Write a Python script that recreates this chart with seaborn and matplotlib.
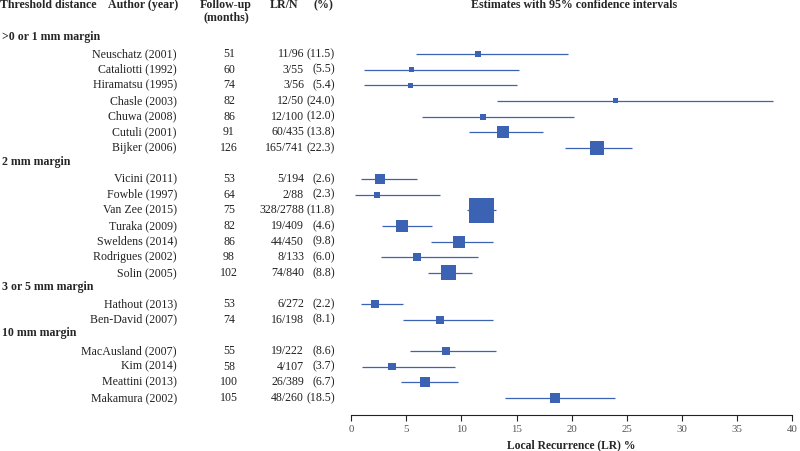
import matplotlib
matplotlib.use("Agg")
import matplotlib.pyplot as plt
import matplotlib.transforms as mtransforms
import pandas as pd
import seaborn as sns

# margin groups and the studies in each one
groups = [">0 or 1 mm margin", "2 mm margin", "3 or 5 mm margin", "10 mm margin"]
group_sizes = [7, 7, 2, 4]

authors = ["Neuschatz (2001)", "Cataliotti (1992)", "Hiramatsu (1995)", "Chasle (2003)",
           "Chuwa (2008)", "Cutuli (2001)", "Bijker (2006)",
           "Vicini (2011)", "Fowble (1997)", "Van Zee (2015)", "Turaka (2009)",
           "Sweldens (2014)", "Rodrigues (2002)", "Solin (2005)",
           "Hathout (2013)", "Ben-David (2007)",
           "MacAusland (2007)", "Kim (2014)", "Meattini (2013)", "Makamura (2002)"]
followup = [51, 60, 74, 82, 86, 91, 126,
            53, 64, 75, 82, 86, 98, 102,
            53, 74,
            55, 58, 100, 105]
lr = [11, 3, 3, 12, 12, 60, 165,
      5, 2, 328, 19, 44, 8, 74,
      6, 16,
      19, 4, 26, 48]
n = [96, 55, 56, 50, 100, 435, 741,
     194, 88, 2788, 409, 450, 133, 840,
     272, 198,
     222, 107, 389, 260]
pct = [11.5, 5.5, 5.4, 24.0, 12.0, 13.8, 22.3,
       2.6, 2.3, 11.8, 4.6, 9.8, 6.0, 8.8,
       2.2, 8.1,
       8.6, 3.7, 6.7, 18.5]
ci_low = [5.9, 1.2, 1.2, 13.2, 6.4, 10.7, 19.4,
          0.9, 0.3, 10.5, 2.8, 7.2, 2.7, 7.0,
          0.9, 4.7,
          5.3, 1.0, 4.5, 14.0]
ci_high = [19.7, 15.2, 15.0, 38.3, 20.2, 17.4, 25.5,
           6.0, 8.1, 13.1, 7.3, 12.9, 11.5, 11.0,
           4.7, 12.9,
           13.1, 9.4, 9.7, 23.9]
# relative study weight (%)
weight = [1.6, 1.1, 1.1, 1.1, 1.6, 6.4, 8.6,
          4.4, 1.6, 27.6, 6.4, 6.4, 2.8, 9.9,
          2.8, 2.8,
          2.8, 2.2, 4.4, 4.4]

BLUE = "#3c63b3"

# row layout: a header row per group, then its studies
study_rows, header_rows = [], []
r = 0
for g, size in zip(groups, group_sizes):
    header_rows.append((r, g))
    r += 1
    for _ in range(size):
        study_rows.append(r)
        r += 1

df = pd.DataFrame({"author": authors, "followup": followup, "lr": lr, "n": n,
                   "pct": pct, "lo": ci_low, "hi": ci_high, "weight": weight,
                   "row": study_rows})

sns.set_theme(style="white")
plt.rcParams["font.family"] = ["Liberation Serif", "DejaVu Serif"]

fig = plt.figure(figsize=(8, 4.51), dpi=100)
ax = fig.add_axes([0.439, 0.080, 0.551, 0.920])

ax.hlines(df["row"], df["lo"], df["hi"], color=BLUE, lw=0.9, zorder=2)
sns.scatterplot(data=df, x="pct", y="row", size="weight", sizes=(13, 330),
                marker="s", color=BLUE, linewidth=0, legend=False, ax=ax, zorder=3)

ax.set_xlim(0, 40)
ax.set_ylim(24.09, -2.46)
ax.set_xticks(range(0, 41, 5))
ax.set_yticks([])
ax.set_ylabel("")
for side in ["top", "right", "left"]:
    ax.spines[side].set_visible(False)
ax.spines["bottom"].set_color("#222222")
ax.spines["bottom"].set_linewidth(0.8)
ax.tick_params(axis="x", direction="out", length=4, width=0.8, colors="#222222",
               labelsize=7.8, labelcolor="#555555", bottom=True, pad=3)
ax.set_xlabel("Local Recurrence (LR) %", fontsize=8.4, fontweight="bold", labelpad=4)

# table text on the left, x in figure fraction, y in data rows
trans = mtransforms.blended_transform_factory(fig.transFigure, ax.transData)
fs = 8.6
hdr_y, hdr_y2 = -2.14, -1.37
ax.text(0.0, hdr_y, "Threshold distance", transform=trans, fontsize=fs,
        fontweight="bold", va="center", ha="left")
ax.text(108 / 800, hdr_y, "Author (year)", transform=trans, fontsize=fs,
        fontweight="bold", va="center", ha="left")
ax.text(226 / 800, hdr_y, "Follow-up", transform=trans, fontsize=fs,
        fontweight="bold", va="center", ha="center")
ax.text(226 / 800, hdr_y2, "(months)", transform=trans, fontsize=fs,
        fontweight="bold", va="center", ha="center")
ax.text(270 / 800, hdr_y, "LR/N", transform=trans, fontsize=fs,
        fontweight="bold", va="center", ha="left")
ax.text(333 / 800, hdr_y, "(%)", transform=trans, fontsize=fs,
        fontweight="bold", va="center", ha="right")
ax.text(574 / 800, hdr_y, "Estimates with 95% confidence intervals", transform=trans,
        fontsize=fs, fontweight="bold", va="center", ha="center")

for row, g in header_rows:
    ax.text(2 / 800, row - 0.12, g, transform=trans, fontsize=fs, fontweight="bold",
            va="center", ha="left")

for _, s in df.iterrows():
    ax.text(177 / 800, s["row"], s["author"], transform=trans, fontsize=fs,
            va="center", ha="right", color="#222222")
    ax.text(229 / 800, s["row"], f"{s['followup']}", transform=trans, fontsize=fs,
            va="center", ha="center", color="#222222")
    ax.text(304 / 800, s["row"], f"{s['lr']}/{s['n']}", transform=trans, fontsize=fs,
            va="center", ha="right", color="#222222")
    ax.text(335 / 800, s["row"], f"({s['pct']:.1f})", transform=trans, fontsize=fs,
            va="center", ha="right", color="#222222")

fig.savefig("out.png", dpi=100)
